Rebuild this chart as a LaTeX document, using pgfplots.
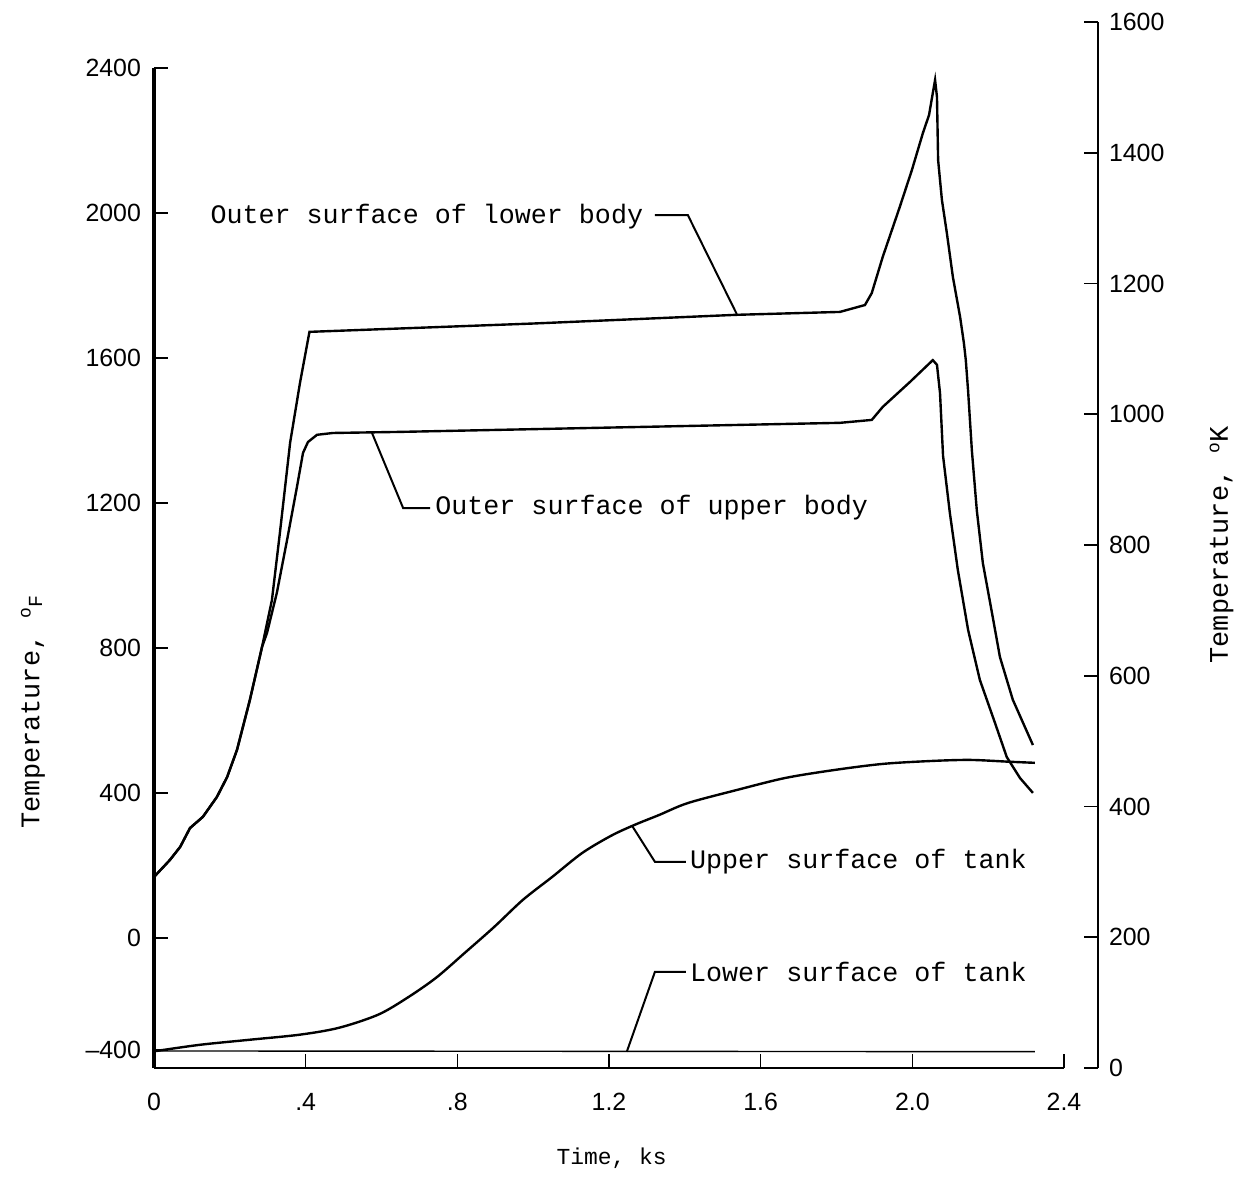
\documentclass[border=0pt]{standalone}
\usepackage{pgfplots}
\pgfplotsset{compat=1.18}
\usepackage{fontspec}
\setmainfont{Liberation Mono}
\newfontfamily\numfont{Liberation Sans}

% curves (time in ks, temperature in deg F)
\pgfplotstableread{
t F
0 168
0.042 215
0.069 251
0.095 303
0.129 334
0.166 389
0.193 444
0.219 519
0.253 657
0.285 803
0.311 932
0.332 1117
0.359 1366
0.385 1531
0.410 1672
1.000 1695
1.536 1719
1.809 1727
1.875 1746
1.893 1779
1.922 1879
1.967 2017
1.999 2119
2.028 2221
2.044 2270
2.054 2331
2.060 2367
2.065 2320
2.068 2146
2.078 2036
2.091 1945
2.107 1823
2.126 1713
2.136 1641
2.141 1594
2.147 1510
2.157 1345
2.170 1180
2.186 1034
2.210 897
2.231 775
2.265 657
2.318 532
}\lowerbody

\pgfplotstableread{
t F
0 168
0.042 215
0.069 251
0.095 303
0.129 334
0.166 389
0.193 444
0.219 519
0.253 657
0.285 803
0.298 841
0.324 952
0.351 1098
0.377 1244
0.393 1338
0.406 1368
0.430 1388
0.472 1393
0.649 1396
1.809 1421
1.893 1429
1.922 1465
1.994 1534
2.054 1594
2.065 1581
2.073 1503
2.081 1330
2.099 1172
2.120 1015
2.147 850
2.178 712
2.218 593
2.249 499
2.284 441
2.318 400
}\upperbody

\pgfplotstableread{
t F
0 -313
0.121 -295
0.253 -281
0.385 -267
0.488 -248
0.591 -212
0.667 -166
0.744 -110
0.820 -41
0.897 30
0.973 105
1.050 168
1.129 234
1.206 282
1.268 312
1.332 339
1.408 372
1.537 408
1.664 441
1.793 463
1.922 480
2.049 488
2.152 491
2.255 486
2.323 483
}\uppertank

\pgfplotstableread{
t F
0 -312
2.323 -314
}\lowertank

\begin{document}
\begin{tikzpicture}[lbl/.style={anchor=west, inner sep=0pt, font=\fontsize{13.4}{15}\selectfont}]
\begin{axis}[
  at={(0,0)}, anchor=south west,
  scale only axis, width=455bp, height=500bp,
  xmin=0, xmax=2.4, ymin=-359, ymax=2400,
  axis x line=bottom, axis y line=left,
  x axis line style={-, line width=0.6pt},
  y axis line style={-, line width=2pt},
  tick align=inside, major tick length=7bp,
  tick style={line width=0.8pt, black},
  xtick={0,0.4,0.8,1.2,1.6,2.0,2.4},
  xticklabels={0,.4,.8,1.2,1.6,2.0,2.4},
  ytick={-309,0,400,800,1200,1600,2000,2400},
  yticklabels={\textendash400,0,400,800,1200,1600,2000,2400},
  tick label style={font=\numfont\fontsize{12.5}{15}\selectfont},
  xticklabel style={yshift=-9bp},
  yticklabel style={xshift=-3bp},
  xlabel={Time, ks},
  xlabel style={at={(axis description cs:0.503,-0.09)}, anchor=center, font=\fontsize{11.5}{13}\selectfont},
  ylabel={Temperature, \raisebox{0.6ex}{\fontsize{9}{10}\selectfont o}\raisebox{-0.2ex}{\fontsize{10}{11}\selectfont F}},
  ylabel style={at={(axis description cs:-0.133,0.356)}, anchor=center, font=\fontsize{13.5}{15}\selectfont},
  clip=false,
]
\addplot[black, no markers, line width=1.2pt] table[x=t, y=F] {\lowerbody};
\addplot[black, no markers, line width=1.2pt] table[x=t, y=F] {\upperbody};
\addplot[black, no markers, line width=1.2pt, smooth] table[x=t, y=F] {\uppertank};
\addplot[black, no markers, line width=0.7pt] table[x=t, y=F] {\lowertank};

% labels with their leaders
\node[lbl] at (axis cs:0.148,1989) {Outer surface of lower body};
\node[lbl] at (axis cs:0.741,1186) {Outer surface of upper body};
\node[lbl] at (axis cs:1.413,210) {Upper surface of tank};
\node[lbl] at (axis cs:1.413,-94) {Lower surface of tank};
\draw[line width=1pt] (axis cs:1.321,1994) -- (axis cs:1.408,1994) -- (axis cs:1.537,1721);
\draw[line width=1pt] (axis cs:0.575,1393) -- (axis cs:0.657,1186) -- (axis cs:0.728,1186);
\draw[line width=1pt] (axis cs:1.261,309) -- (axis cs:1.321,210) -- (axis cs:1.403,210);
\draw[line width=1pt] (axis cs:1.247,-314) -- (axis cs:1.321,-94) -- (axis cs:1.403,-94);
\end{axis}

\begin{axis}[
  at={(0,0)}, anchor=south west,
  scale only axis, width=472bp, height=523bp,
  xmin=0, xmax=1, ymin=0, ymax=1600,
  axis x line=none, axis y line=right,
  y axis line style={-, line width=1pt},
  tick align=inside, major tick length=7bp,
  tick style={line width=0.8pt, black},
  ytick={0,200,400,600,800,1000,1200,1400,1600},
  yticklabels={0,200,400,600,800,1000,1200,1400,1600},
  tick label style={font=\numfont\fontsize{12.5}{15}\selectfont},
  yticklabel style={xshift=2bp},
  ylabel={Temperature, \raisebox{0.6ex}{\fontsize{9}{10}\selectfont o}K},
  ylabel style={at={(axis description cs:1.131,0.5)}, anchor=center, font=\fontsize{13.5}{15}\selectfont},
  clip=false,
]
\addplot[draw=none] coordinates {(0,0)};
\end{axis}
\pgfresetboundingbox
\path (-77bp,-67bp) rectangle (546.5bp,534bp);
\end{tikzpicture}
\end{document}
